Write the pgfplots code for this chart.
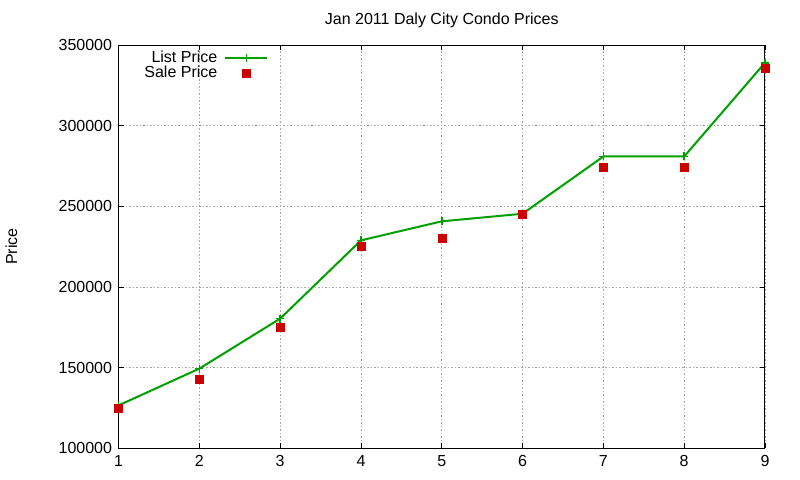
\documentclass[border=0pt]{standalone}
\usepackage{pgfplots}
\pgfplotsset{compat=1.18}
\usepackage{fontspec}
\setmainfont{Liberation Sans}
\usetikzlibrary{calc}
\definecolor{lgreen}{HTML}{00A000}
\definecolor{sred}{HTML}{CC0000}

\begin{document}
\begin{tikzpicture}
\begin{axis}[
    name=ax,
    scale only axis,
    width=646bp, height=403bp,
    font=\fontsize{16bp}{19bp}\selectfont,
    /pgf/number format/assume math mode=true,
    xmin=1, xmax=9,
    ymin=100000, ymax=350000,
    xtick={1,...,9},
    ytick={100000,150000,...,350000},
    scaled y ticks=false,
    yticklabel style={/pgf/number format/fixed, /pgf/number format/1000 sep={}, xshift=-3bp},
    xticklabel style={yshift=-4bp},
    tick align=inside,
    major tick length=5bp,
    tick style={black, line width=0.8bp},
    axis line style={black, line width=1bp},
    grid=major,
    major grid style={gray!70, line width=0.8bp, dash pattern=on 1.5bp off 2bp},
    title={Jan 2011 Daly City Condo Prices},
    every axis title/.style={at={(axis description cs:0.5,1)}, anchor=center, yshift=25bp},
    ylabel={Price},
    every axis y label/.style={at={(axis description cs:-0.1656,0.5)}, rotate=90, anchor=center},
    legend style={at={(axis description cs:0.232,0.988)}, anchor=north east,
        draw=none, fill=none, inner sep=0pt, row sep=0bp,
        nodes={inner sep=1bp}, column sep=6bp,
        font=\fontsize{16bp}{19bp}\selectfont},
    legend plot pos=right,
    legend cell align=right,
    legend image code/.code={\draw[mark repeat=2, mark phase=2] plot coordinates {(0cm,0cm) (0.74cm,0cm) (1.48cm,0cm)};},
    clip=false,
]
\addplot[lgreen, line width=2bp, mark=+, mark size=4bp, mark options={line width=1.5bp}]
    coordinates {(1,126600) (2,149400) (3,180400) (4,228900) (5,240700)
                 (6,245400) (7,280900) (8,280900) (9,339000)};
\addlegendentry{List Price}
\addplot[only marks, mark=square*, mark size=4bp, color=sred, mark options={draw=sred, fill=sred}]
    coordinates {(1,124600) (2,142700) (3,175200) (4,225200) (5,230400)
                 (6,245400) (7,274300) (8,274300) (9,335600)};
\addlegendentry{Sale Price}
\end{axis}
\pgfresetboundingbox
\path[use as bounding box] ($(ax.south west)+(-118.5bp,-31bp)$) rectangle ($(ax.north east)+(35bp,45bp)$);
\end{tikzpicture}
\end{document}
